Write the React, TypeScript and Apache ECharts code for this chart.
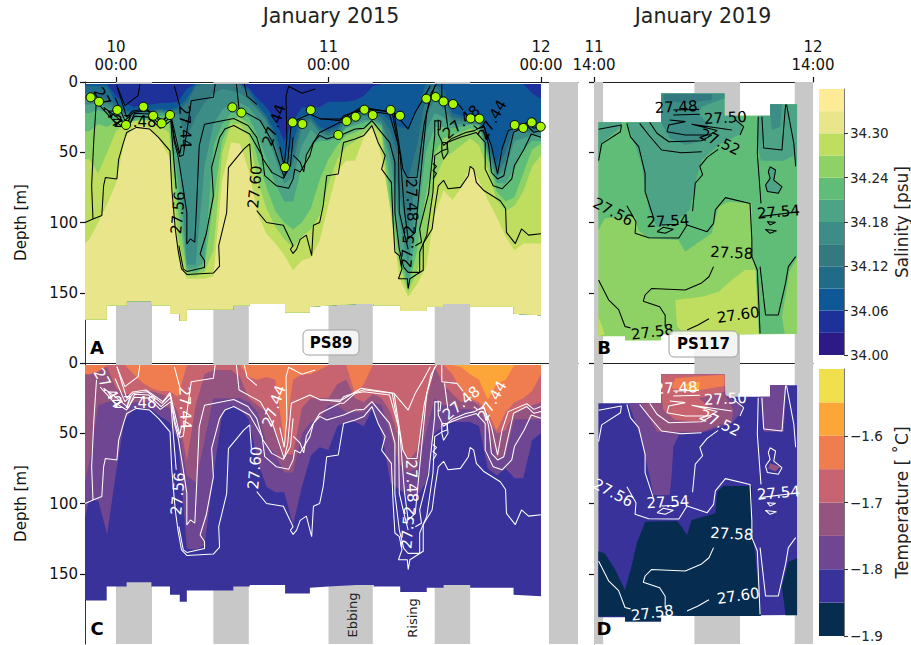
import React, { useEffect, useRef } from "react";
import * as echarts from "echarts";

type P = [number, number];

// ---- colour scales
const salinityLevels = [34.0, 34.03, 34.06, 34.09, 34.12, 34.15, 34.18, 34.21, 34.24, 34.27, 34.3, 34.33, 34.36];
const salinityColors = ["#2e1a87", "#1e319b", "#0f5898", "#1f6b88", "#327a80", "#3c8d85", "#4ca386", "#60bd78", "#8ed165", "#bfdd5f", "#e9e58a", "#fdeb95"];
const salinityTicks = [34.0, 34.06, 34.12, 34.18, 34.24, 34.3];
const tempLevels = [-1.9, -1.85, -1.8, -1.75, -1.7, -1.65, -1.6, -1.55, -1.5];
const tempColors = ["#062c50", "#38329a", "#6f4692", "#955380", "#c76470", "#f07d50", "#fca63a", "#f1e04d"];
const tempTicks = [-1.9, -1.8, -1.7, -1.6];

// ---- time axes (hours after 10 Jan 00:00, hours after 11 Jan 14:00)
const hoursA = [-3.5, -3, -2, -1, 0, 1, 2, 3, 4, 5, 6, 7, 8, 9, 10, 11, 12, 13, 14, 15, 16, 17, 18, 19, 20, 21, 22, 23, 24, 25, 26, 27, 28, 29, 30, 31, 32, 33, 34, 35, 36, 37, 38, 39, 40, 41, 42, 43, 44, 45, 46, 47, 48];
const tideBands2015 = [[0, 4.07], [11, 15], [24, 29], [36, 40], [48.9, 52.18]];
const tideBands2019 = [[0, 1], [11, 16], [22, 24]];

// ---- 2015: depth of each isohaline (m) on hoursA
const s3406 = [0, 0, 0, 0, 10, 15, 18, 16, 16, 15, 15, 14, 5, 0, 0, 0, 0, 0, 0, 4, 12, 18, 28, 42, 28, 18, 18, 18, 14, 14, 14, 13, 10, 3, 0, 0, 0, 0, 0, 0, 0, 0, 0, 0, 0, 0, 0, 0, 0, 0, 0, 8, 12];
const s3409 = [3, 3, 3, 3, 15, 20, 22, 20, 20, 19, 20, 18, 12, 0, 0, 0, 0, 0, 0, 6, 16, 24, 36, 55, 42, 24, 24, 32, 34, 32, 24, 22, 20, 20, 22, 28, 32, 33, 20, 0, 0, 5, 22, 24, 24, 24, 40, 58, 40, 28, 32, 32, 32];
const s3412 = [8, 8, 10, 12, 17, 22, 23, 21, 21, 20, 21, 20, 15, 3, 0, 0, 0, 0, 2, 10, 18, 26, 40, 62, 50, 28, 26, 34, 36, 34, 26, 24, 22, 23, 25, 35, 55, 70, 45, 10, 0, 12, 25, 26, 26, 26, 45, 62, 50, 32, 34, 34, 34];
const s3415 = [12, 12, 13, 15, 19, 23, 24, 22, 22, 21, 22, 23, 40, 25, 15, 8, 5, 6, 8, 13, 20, 28, 46, 68, 58, 32, 28, 36, 38, 36, 28, 26, 24, 25, 28, 45, 80, 105, 65, 25, 12, 20, 27, 28, 28, 28, 48, 65, 56, 34, 36, 36, 36];
const s3418 = [16, 16, 15, 18, 21, 24, 25, 23, 23, 22, 23, 40, 130, 130, 60, 30, 20, 15, 15, 18, 26, 36, 55, 72, 68, 45, 34, 40, 40, 38, 32, 29, 27, 27, 30, 55, 100, 130, 85, 35, 22, 25, 30, 30, 30, 30, 50, 68, 62, 42, 40, 38, 38];
const s3421 = [22, 22, 20, 22, 24, 26, 27, 25, 25, 24, 25, 70, 133, 133, 128, 45, 30, 22, 22, 25, 38, 55, 72, 85, 85, 60, 45, 42, 42, 40, 33, 31, 29, 27, 32, 70, 115, 145, 100, 50, 32, 32, 33, 32, 30, 31, 52, 72, 72, 62, 48, 42, 42];
const s3424 = [35, 35, 30, 32, 28, 28, 28, 27, 27, 28, 30, 90, 135, 136, 132, 85, 42, 26, 25, 30, 55, 75, 92, 100, 105, 100, 90, 70, 55, 45, 38, 36, 33, 29, 34, 85, 125, 148, 120, 80, 50, 40, 38, 36, 33, 35, 55, 78, 85, 82, 65, 48, 44];
const s3427 = [55, 55, 65, 50, 35, 30, 28, 27, 28, 32, 36, 110, 138, 138, 135, 120, 50, 30, 30, 38, 70, 90, 103, 112, 118, 110, 105, 95, 72, 55, 46, 42, 36, 30, 38, 100, 130, 150, 135, 110, 70, 55, 50, 45, 40, 45, 62, 84, 92, 88, 78, 60, 52];
const s3430 = [115, 112, 100, 87, 72, 40, 32, 31, 34, 42, 53, 125, 140, 140, 140, 138, 70, 43, 44, 63, 94, 108, 115, 123, 134, 127, 125, 113, 87, 63, 56, 56, 39, 32, 53, 91, 139, 153, 144, 132, 94, 77, 84, 75, 60, 70, 84, 96, 110, 120, 115, 115, 115];

// ---- 2015: depth of each isotherm (m) on hoursA
const t180 = [110, 97, 98, 122, 78, 40, 33, 32, 33, 38, 42, 55, 132, 133, 130, 80, 36, 30, 33, 40, 70, 88, 92, 92, 115, 88, 66, 60, 62, 45, 42, 42, 45, 32, 50, 85, 90, 95, 95, 85, 50, 45, 42, 42, 42, 45, 75, 80, 75, 82, 82, 55, 50];
const t175 = [85, 70, 30, 28, 26, 30, 28, 28, 28, 30, 32, 45, 80, 85, 55, 25, 25, 25, 25, 28, 35, 58, 65, 78, 78, 50, 42, 40, 30, 30, 35, 35, 35, 28, 30, 50, 72, 78, 75, 50, 25, 30, 30, 33, 33, 36, 48, 68, 65, 40, 40, 40, 40];
const t170 = [5, 5, 4, 3, 18, 22, 22, 20, 20, 22, 24, 35, 70, 30, 8, 5, 5, 5, 10, 25, 30, 35, 48, 65, 65, 32, 25, 25, 25, 15, 12, 25, 28, 22, 25, 35, 55, 70, 62, 30, 3, 15, 22, 28, 26, 30, 40, 50, 48, 35, 32, 30, 28];
const t165 = [8, 8, 6, 0, 0, 0, 8, 14, 18, 20, 20, 24, 0, 0, 0, 0, 0, 0, 0, 10, 12, 10, 12, 55, 12, 8, 8, 5, 0, 0, 0, 22, 15, 0, 0, 0, 0, 0, 0, 0, 0, 0, 8, 20, 25, 28, 35, 48, 35, 28, 25, 20, 8];
const t160 = [0, 0, 0, 0, 0, 0, 0, 0, 0, 0, 0, 0, 0, 0, 0, 0, 0, 0, 0, 0, 0, 0, 0, 0, 0, 0, 0, 0, 0, 0, 0, 0, 0, 0, 0, 0, 0, 0, 0, 0, 0, 0, 0, 3, 8, 12, 26, 15, 12, 0, 0, 0, 0];

const surface2015 = 1.5;
const bottom2015: P[] = [[-3.5, 169], [-1.05, 169], [-1.05, 159], [1.2, 159], [1.2, 156], [4, 156], [4, 159], [6.1, 159], [6.1, 165], [7.2, 165], [7.2, 170], [8, 170], [8, 162], [13.25, 162], [13.25, 159], [15.1, 159], [15.1, 158], [19.1, 158], [19.1, 164], [21.9, 164], [21.9, 160], [24, 159], [27.2, 158], [29.1, 158], [29.1, 159], [32.1, 159], [32.1, 163], [35.1, 163], [35.1, 160], [37, 160], [37, 158], [40, 158], [40, 160], [44.9, 160], [44.9, 165], [48, 166]];

// ---- 2015 isopycnals
const c60a: (P | null)[] = [[-3.5, 100], [-2.6, 97.5], [-1.6, 95], [-1.4, 74], [-1.2, 68], [0.1, 69], [0.3, 55], [0.8, 44], [1.2, 36], [2.3, 32.3], [3.8, 33.5], [4.8, 39.4], [6.1, 49], [6.3, 76], [6.7, 105], [7, 119], [7.4, 133], [8, 137], [11, 136], [11.7, 131], [11.6, 116.5], [12.5, 93], [12.7, 61], [14.4, 48], [15.1, 44], [15.3, 61], null, [15.9, 91.6], [17, 100], [18.9, 102], [20, 116.5], [19.7, 119], [20, 122], [20.4, 119], [20.8, 112], [21.5, 109], [22.1, 123.6], [22.3, 102], [23, 100], [23.4, 88], [23.8, 66.7], [25.1, 65.5], [25.7, 43], [27, 40.6], [28, 38], [28.9, 31], [29.6, 43], [30.4, 52.4], [30, 62], [31.1, 71.4], [31.3, 100], [31.5, 121], [32, 123.6], [32.3, 133], [31.9, 140], [32.9, 140], [33, 147], [33.2, 140], [34.7, 134], [34.7, 115], [35.7, 104.6], [36, 90], [36.4, 74], [37, 70], [37.5, 76], [38.9, 75], [39.8, 66.7], [40, 60], [40.4, 62], [40.7, 71.4], [41.5, 77], [43.4, 84.5], [44, 90], [44.1, 107], [45.1, 115], [45.8, 104.6], [46.6, 109], [48, 108]];
const c58left: (P | null)[] = [[-2.2, 12], [-2.5, 40.6], [-2.75, 73.8], [-2.6, 97.5]];
const c58a: (P | null)[] = [[-1.8, 17], [-0.3, 27.5], [1.2, 33.5], [2.1, 24.4], [3.7, 25], [5, 33], [6.2, 27.5], [6.4, 45.3], [6.8, 76], null, [7.1, 116.5], [7.6, 133], [8, 134.8], [10, 132], [10, 127], [9.5, 122.4], [10.2, 108], [11, 81], [10.8, 60.7], [11.7, 39.4], [12.3, 33.5], [13.3, 31], [15.1, 37], [16.5, 52.4], [16.8, 66.7], [18.1, 73.8], [19.5, 75.7], [20, 69], [20.2, 62], [20.8, 64], [21.9, 52.4], [22.3, 43], [23, 38], [23.8, 40.6], [25.7, 37], [27, 33.5], [28, 33], [28.9, 27.5], [30, 36], [30.9, 43], [31.5, 57], [31.5, 93], [32, 119], [32.5, 132], [33, 135.5], [34.3, 135.5], [34.3, 121], [35.1, 109], [35.8, 78.5], [36, 52.4], [36.8, 49], [37.4, 47.7], [37.4, 43], [38.9, 39.4], [40.7, 36], [41.7, 43], [41.7, 62], [42.6, 73.8], [43.6, 76], [44.7, 69], [45, 59.5], [46.1, 47.7], [46.9, 37], [48, 39.4]];
const c56a: (P | null)[] = [[-1.4, 18], [0.1, 25], [1.4, 32], [2.1, 22.3], [3.7, 22.8], [5.1, 31], [6.2, 24.4], [6.6, 43], [7, 52.4], [7.6, 76], [8, 92.8], [8, 115.3], [8.4, 111.7], [8.9, 114], [9.1, 88], [9.4, 45.3], [10, 30], [13.3, 26], [14.9, 31], [15.9, 39.4], [16.6, 54.8], [17.6, 64.3], [18.9, 68.6], [19.7, 59.5], [20, 39.4]];
const c56b: (P | null)[] = [[20, 52], [20.8, 57], [21.2, 64], [21.5, 52], [22.3, 43], [23, 36], [25.3, 28.7], [25.7, 28.7], [27, 21.6], [28, 20.4], [30.9, 22.8], [31.9, 45.3], [32, 92.8], [32.6, 109], [33, 119], null, [33.8, 116.5], [34.5, 114], [34.3, 104.6], [35.3, 79.7], [36, 38], [36, 27.5], [36.4, 28], [36.4, 37], [37, 45], [38, 40], [39.5, 36], [40.5, 34.6], [41.5, 31], [42.4, 45.3], [43.1, 65.5], [43.6, 47.7], [44.3, 34.6], [46.4, 29], [47.2, 33], [48, 31]];
const c52a: (P | null)[] = [[-0.1, 11], [1, 27.5], [2, 21.6], [3.5, 20.4], [5.2, 28.7], [6.1, 22.3], [6.7, 43], [7.2, 53], [7.6, 52], [8.1, 31], [8.5, 13.3], [11, 10.9], [11.2, 1.4]];
const c48a: (P | null)[] = [[0.1, 2.6], [1.2, 25], [1.9, 20.6], [3.4, 19.2], [5.3, 27.5], [6.1, 21], [6.9, 43], [7.2, 51], [7.4, 45], null, [7.3, 19], [7.2, 17], [6.6, 3]];
const c44a: (P | null)[] = [[2.7, 1.4], [2.5, 9.7], [1, 16.8], [0.1, 2.6]];
const c52b: (P | null)[] = [[13.6, 1.4], [13.9, 19.2], [16.3, 27.5], [17.6, 41.8], [19, 67.9], [19.4, 57], [19.8, 28.7], [21.9, 22.8], [23, 26], [25.3, 27.5], [25.7, 24], [28, 19], [31.2, 21.6], [32.1, 52.4], [32.5, 85.6], [32.6, 92.8], [33, 111.7], [33.8, 107], [34.3, 73.8], [35.1, 21.6], [36, 2.6]];
const c48b: (P | null)[] = [[23, 26.3], [25.5, 26.3], [27.7, 18], [31.4, 21.6], [32.4, 62], [32.9, 68], [34, 68], [34.8, 30], [35.6, 8], [36.2, 1.5]];
const c44b: (P | null)[] = [[31.4, 21.6], [33, 33.5], [33.8, 21.6], [34.7, 12], [35.5, 2.6]];
const c44c: (P | null)[] = [[36.8, 1.4], [36.8, 13.3], [38.5, 14.5], [39.2, 20], null, [40.4, 31], [40.8, 33]];
const c44d: (P | null)[] = [[37.1, 14.5], [37.5, 33.5]];
const c48c: (P | null)[] = [[40.7, 33.5], [41.6, 32], [42.1, 45.3], [42.4, 64.3], [43.1, 69], [43.8, 66.7], [44.3, 52.4], [44.9, 35.8], [46.4, 31], [47.2, 35.8], [48, 34.6]];
const c44e: (P | null)[] = [[14.5, 1.5], [14.8, 10], [15.9, 16], null, [18.5, 46], [19, 60], [19.3, 40], [19.2, 10], [19.5, 3], [21, 8], [22.5, 5]];
const loopA: (P | null)[] = [[36.8, 43], [37.4, 43], [37.5, 50], [37, 55], [36.8, 50], [36.8, 43]];
const loopB: (P | null)[] = [[36.3, 27], [36.7, 28], [36.6, 34], [36.3, 34]];
const wiggleA: (P | null)[] = [[35.8, 58], [36.2, 60], [35.8, 63], [36.2, 65], [35.8, 69]];
const contours2015 = [c60a, c58left, c58a, c56a, c56b, c52a, c48a, c44a, c52b, c48b, c44b, c44c, c44d, c48c, c44e, loopA, loopB, wiggleA];

const labels2015: [number, number, string, number][] = [
  [7.0, 93, "27.56", 85], [7.8, 32, "27.44", -88], [15.7, 74.7, "27.60", 85], [17.85, 30.6, "27.44", 70],
  [2.15, 28.5, "27.48", 0], [-0.9, 18, "27.44", -60], [33, 117, "27.52", 85], [33.4, 84, "27.48", -88],
  [39, 28.5, "27.48", 40], [42.5, 27, "27.44", 60],
];

// ---- stations marked on the salinity section
const stationH = [-2.86, -1.92, 0.15, 1.13, 3.09, 4.2, 5.16, 6.1, 13.14, 14.16, 19.09, 19.95, 21.05, 22, 25.11, 26.05, 27.07, 28.05, 29, 31.02, 32.08, 35.05, 36.1, 37, 38.07, 40.06, 41.04, 45.03, 45.99, 46.95, 47.97];
const stationD = [10.9, 14, 19.9, 30.6, 17.6, 24, 29.4, 23.5, 18, 21.8, 60.7, 28.7, 29.9, 20, 37.7, 27.8, 24.7, 19.7, 23.5, 19.9, 24, 11.9, 10.7, 13.8, 15.7, 25.9, 26.1, 30.6, 32.7, 28.7, 31.8];

// ---- 2019 regions
const domain2019: P[] = [[0.48, 28.7], [7.35, 28.7], [7.35, 8.1], [14.3, 8.1], [14.3, 24], [19.3, 24], [19.3, 15.9], [22.25, 15.9], [22.25, 179.4], [10, 180], [7.35, 179.6], [7.35, 184], [3.4, 184], [3.4, 181], [0.48, 181]];
const sal7: P[] = [[0.48, 28.7], [7.35, 28.7], [7.35, 8.1], [14.3, 8.1], [14.3, 24], [19.3, 24], [19.3, 15.9], [22.25, 15.9], [22.25, 125], [21.4, 135], [21.2, 144], [20.6, 167], [20.9, 179], [18.05, 179.4], [17.7, 133.8], [17.3, 121.9], [17.3, 86.4], [14.75, 85.2], [13.65, 88.7], [12.9, 107.7], [11.3, 114.8], [10, 120.8], [9.25, 112.5], [5.95, 111.3], [4.85, 105.3], [4.5, 95.8], [1.2, 97], [0.48, 105.3]];
const sal9a: P[] = [[8.9, 155.2], [11.8, 152.8], [13.65, 149.2], [15.1, 141], [16.55, 133.8], [17.7, 133.8], [18.05, 179.4], [10, 180], [9.1, 174.1]];
const sal9b: P[] = [[0.48, 167], [1.2, 179.5], [0.48, 181]];
const sal6a: P[] = [[3.6, 28.7], [5.2, 57.9], [6, 91], [6.9, 103], [8.7, 100.6], [10.5, 91], [11.1, 72], [11.8, 55.5], [13.65, 44.8], [16.2, 36.5], [16.2, 29.4], [15.8, 24], [14.3, 24], [14.3, 8.1], [7.35, 8.1], [7.35, 28.7]];
const sal6b: P[] = [[0.48, 28.7], [3, 28.7], [3, 31.8], [0.84, 43.6], [0.48, 55.5]];
const sal6c: P[] = [[18, 24], [19.3, 24], [19.3, 15.9], [22.25, 15.9], [22.25, 60.3], [21.9, 52], [20.8, 56], [18.3, 56], [17.9, 45]];
const sal6d: P[] = [[19.3, 60.3], [19.9, 62.6], [19.7, 69.8], [20.6, 74.5], [20.2, 79.2], [19, 78], [18.8, 73.3], [19.3, 68.6], [19.1, 63.8]];
const sal5a: P[] = [[7.35, 8.1], [14.3, 8.1], [14.3, 11.6], [11.8, 17.6], [11.45, 22.3], [12.55, 30.6], [12.2, 41.2], [10, 44.8], [8.35, 40], [7.35, 28.7]];
const sal5b: P[] = [[19.3, 15.9], [20.6, 15.9], [20.4, 31.8], [19.5, 34.2], [19.3, 22.3]];
const sal4a: P[] = [[7.6, 8.5], [12.9, 8.5], [12.9, 12.8], [10, 15.2], [7.6, 12.8]];

const temp0a: P[] = [[5.6, 113], [9.1, 112.5], [9.6, 116.5], [10.2, 122.4], [10.7, 111.7], [13.3, 107], [13.5, 91.6], [14.2, 87.5], [17.3, 87.5], [17.3, 114], [17.7, 140], [18.3, 180], [10, 180], [7.35, 179.6], [7.35, 184], [3.4, 184], [3.4, 180.5], [0.48, 180.5], [0.48, 134], [1.2, 135.5], [2.3, 147], [3.4, 161.5], [4.1, 145], [4.7, 128], [5.4, 116.5]];
const temp0b: P[] = [[22.25, 139], [21.3, 141.4], [20.6, 159.2], [21, 179.5], [22.25, 179.5]];
const temp2a: P[] = [[3.8, 28.7], [5.2, 54.8], [6.1, 80.9], [6.5, 94], [8.3, 94], [8.5, 80.9], [8.7, 59.5], [9.3, 51.2], [12.2, 48.9], [15.1, 43], [16.2, 34.6], [16, 28.7], [14.4, 22.8], [14.3, 8.1], [7.35, 8.1], [7.35, 28.7]];
const temp2b: P[] = [[19.3, 15.7], [21.1, 15.7], [20.8, 48.9], [18.6, 48.9], [18.2, 24], [19.3, 24]];
const temp3a: P[] = [[5.2, 28.7], [6.9, 48.9], [11.8, 48.9], [15.1, 40.6], [15.3, 33.5], [14.3, 21.6], [14.3, 8.1], [7.35, 8.1], [7.35, 28.7]];
const temp3b: P[] = [[19.3, 71.4], [20.4, 73.8], [19.9, 77.3], [19.1, 75]];
const temp4a: P[] = [[7.35, 8.1], [14.3, 8.1], [14.3, 20.4], [11.5, 25], [13.3, 35.8], [11.5, 41.8], [8.9, 40.6], [7.6, 33.5], [7.35, 20.4]];
const temp5a: P[] = [[8.9, 10.9], [14.3, 8.1], [14.3, 16.4], [11.1, 19.7], [8.5, 18]];
const temp6a: P[] = [[10, 14.9], [11.6, 13.3], [11.5, 19.7], [10.3, 19.2]];

const b1: (P | null)[] = [[0.5, 33.7], [3, 30.6], [2.9, 35.4], [0.84, 44], [0.5, 56]];
const b2: (P | null)[] = [[3.6, 29.4], [4, 39], [4.9, 46], [5.6, 65], [5.6, 78], [6.5, 96]];
const b3: (P | null)[] = [[10.8, 92], [11.1, 72], [11.9, 66], [11.6, 60], [12.4, 53.6], [13.6, 48], null, [16, 37.7], [16.4, 31.8], [15.5, 27]];
const b4: (P | null)[] = [[3.6, 88], [4.6, 99.4], [4.5, 107.7], [6, 110.8], [9.3, 111], [10.2, 101.8], [12.4, 106.5], [13.1, 100.6], [13.3, 91], [14.4, 82.3], [17.1, 86.4], [17.3, 112.5], [17.3, 124.3], [17.9, 133.8], [18.2, 178.9]];
const b5: (P | null)[] = [[0.5, 141], [1.6, 155], [2.7, 162], [3.4, 174], [4, 175], null, [7.8, 174], [7.8, 166], [7.2, 160], [5.4, 156], [5.6, 151.6], [6.3, 147], [10, 148], [11.8, 143], [12.6, 138.6], [13.1, 131.4]];
const b6: (P | null)[] = [[10.2, 176.5], [11.4, 173], [12.6, 168.5]];
const b7: (P | null)[] = [[18, 24.7], [17.9, 50.8], [18.3, 86.4], null, [18.2, 131.4], [18.8, 165.8], [20.2, 165.8], [21, 143], [21.3, 131.4], [22.1, 124.3]];
const b8: (P | null)[] = [[21.1, 16], [21.9, 43.7], [22.1, 60]];
const b9: (P | null)[] = [[18.4, 24.7], [18.6, 47], [20.6, 48.4], [20.8, 31.8], [21, 16]];
const b10: (P | null)[] = [[19.3, 60.3], [19.9, 62.6], [19.7, 69.8], [20.6, 74.5], [20.2, 79.2], [19, 78], [18.8, 73.3], [19.3, 68.6], [19.1, 63.8], [19.3, 60.3]];
const b11: (P | null)[] = [[5, 29.4], [6, 37.7], [7.4, 48.4], [9.6, 50.3], [11.8, 49.6]];
const b12: (P | null)[] = [[6.1, 28.7], [6.9, 36.5], [8.2, 42.5], [11.8, 41.8], [12.9, 37.7]];
const b13: (P | null)[] = [[8.7, 23.5], [11.6, 23]];
const b14: (P | null)[] = [[8.3, 27], [10, 28.2], [8.2, 30.6], [8, 35.4], [10, 37.7], [12.6, 37.7], [13.5, 34.6], [10.7, 30], [15.1, 34.2]];
const b15: (P | null)[] = [[8.7, 20], [11.5, 19.5]];
const b16: (P | null)[] = [[18.2, 95.8], [22.4, 92.3]];
const b17: (P | null)[] = [[19, 99.4], [19.9, 99.9], [19.3, 101.8], [19, 99.4]];
const b18: (P | null)[] = [[18.8, 105], [20, 105.8], [19.3, 107.7], [18.8, 105]];
const b19: (P | null)[] = [[6.9, 106.5], [7.6, 103.4], [8.7, 104.9], [7.8, 107.7], [6.9, 106.5]];
const b20: (P | null)[] = [[7.4, 101.8], [9.3, 101.3]];
const contours2019 = [b1, b2, b3, b4, b5, b6, b7, b8, b9, b10, b11, b12, b13, b14, b15, b16, b17, b18, b19, b20];

const labels2019: [number, number, string, number][] = [
  [9, 17.8, "27.48", 3], [14.4, 25.6, "27.50", 3], [13.8, 42.7, "27.52", -25], [2.1, 92.5, "27.56", -28],
  [8.1, 99, "27.54", 3], [20.2, 92.5, "27.54", 5], [15.1, 121.7, "27.58", -3], [15.8, 165.8, "27.60", 8], [6.4, 178, "27.58", 7],
];

const FONT = "DejaVu Sans";
const GRAY = "#c8c8c8";

function polygon(points: P[], fill: string, axis: number, z = 2) {
  return {
    type: "custom", xAxisIndex: axis, yAxisIndex: axis, z, silent: true, data: [[0, 0]],
    renderItem: (_p: any, api: any) => ({
      type: "polygon",
      shape: { points: points.map((p) => api.coord(p)) },
      style: { fill },
    }),
  };
}

function lines(list: (P | null)[][], color: string, axis: number) {
  const out: any[] = [];
  list.forEach((c) => {
    let seg: P[] = [];
    const flush = () => {
      if (seg.length > 1) out.push({ type: "line", xAxisIndex: axis, yAxisIndex: axis, z: 3, silent: true, symbol: "none", animation: false, data: seg, lineStyle: { color, width: 1.05 } });
      seg = [];
    };
    c.forEach((p) => { if (p) seg.push(p); else flush(); });
    flush();
  });
  return out;
}

function textLabels(list: [number, number, string, number][], color: string, axis: number) {
  return {
    type: "custom", xAxisIndex: axis, yAxisIndex: axis, z: 4, silent: true,
    data: list.map((l, i) => [l[0], l[1], i]),
    renderItem: (_p: any, api: any) => {
      const l = list[api.value(2)];
      const c = api.coord([l[0], l[1]]);
      return {
        type: "text", x: c[0], y: c[1], rotation: (l[3] * Math.PI) / 180,
        style: { text: l[2], fill: color, font: `15px "${FONT}"`, align: "center", verticalAlign: "middle" },
      };
    },
  };
}

function colorbar(levels: number[], colors: string[], axis: number) {
  return {
    type: "custom", xAxisIndex: axis, yAxisIndex: axis, z: 2, silent: true,
    data: colors.map((_, i) => [i, i]),
    renderItem: (_p: any, api: any) => {
      const i = api.value(0);
      const a = api.coord([0, levels[i]]);
      const b = api.coord([1, levels[i + 1]]);
      return { type: "rect", shape: { x: a[0], y: b[1], width: b[0] - a[0], height: a[1] - b[1] }, style: { fill: colors[i] } };
    },
  };
}

function bands(list: number[][], axis: number) {
  return list.map(([a, b]) => polygon([[a, 0], [b, 0], [b, 200], [a, 200]], GRAY, axis, 1));
}

function upperEdge(level: number[]): P[] {
  return level.map((d, i) => [hoursA[i], Math.max(d, surface2015)] as P);
}

const noLevel = hoursA.map(() => 0);

function fullSection(color: string, axis: number) {
  return polygon([...upperEdge(noLevel), ...[...bottom2015].reverse()], color, axis);
}

function salLayer(level: number[], color: string) {
  return polygon([...upperEdge(level), ...[...bottom2015].reverse()], color, 0);
}

function tempLayer(level: number[], color: string) {
  return polygon([...upperEdge(noLevel), ...upperEdge(level).reverse()], color, 2);
}

const axisFont = { fontFamily: FONT, fontSize: 15, color: "#111" };

function depthAxis(grid: number, showLabels: boolean) {
  return {
    type: "value", gridIndex: grid, inverse: true, min: 0, max: 200, position: "left",
    splitLine: { show: false },
    axisLine: { show: true, onZero: false, lineStyle: { color: "#333", width: 1 } },
    axisTick: { show: true, length: 5, customValues: [0, 50, 100, 150], lineStyle: { color: "#111", width: 1.2 } },
    axisLabel: { show: showLabels, customValues: [0, 50, 100, 150], margin: 7, ...axisFont },
    ...(showLabels ? { name: "Depth [m]", nameLocation: "middle", nameGap: 57, nameRotate: 90, nameTextStyle: { ...axisFont } } : {}),
  };
}

function timeAxis(grid: number, min: number, max: number, ticks: number[], names: string[]) {
  return {
    type: "value", gridIndex: grid, min, max, position: "top",
    splitLine: { show: false },
    axisLine: { show: true, onZero: false, lineStyle: { color: "#222", width: 1 } },
    axisTick: { show: ticks.length > 0, length: 5, customValues: ticks, lineStyle: { color: "#111", width: 1.2 } },
    axisLabel: {
      show: ticks.length > 0, customValues: ticks, margin: 8, lineHeight: 18, hideOverlap: false, showMinLabel: true, showMaxLabel: true,
      formatter: (v: number) => names[ticks.indexOf(v)] ?? "", ...axisFont,
    },
  };
}

function colorbarAxes(grid: number, min: number, max: number, ticks: number[], name: string, fmt: (v: number) => string) {
  return {
    x: { type: "value", gridIndex: grid, min: 0, max: 1, show: false },
    y: {
      type: "value", gridIndex: grid, min, max, position: "right",
      splitLine: { show: false },
      axisLine: { show: true, onZero: false, lineStyle: { color: "#555", width: 0.8 } },
      axisTick: { show: true, length: 4, customValues: ticks, lineStyle: { color: "#333" } },
      axisLabel: { customValues: ticks, margin: 6, formatter: fmt, fontFamily: FONT, fontSize: 13.5, color: "#222" },
      name, nameLocation: "middle", nameGap: 49, nameRotate: 90, nameTextStyle: { fontFamily: FONT, fontSize: 17, color: "#222" },
    },
  };
}

function panelLetter(t: string, x: number, y: number) {
  return { type: "text", x, y, z: 20, style: { text: t, font: `bold 18px "${FONT}"`, fill: "#000", align: "center", verticalAlign: "middle" } };
}

function boxed(t: string, x: number, y: number, w: number, h: number) {
  return [
    { type: "rect", z: 19, shape: { x, y, width: w, height: h, r: 5 }, style: { fill: "rgba(255,255,255,0.8)", stroke: "#a0a0a0", lineWidth: 1 } },
    { type: "text", z: 20, x: x + w / 2, y: y + h / 2, style: { text: t, font: `bold 15px "${FONT}"`, fill: "#000", align: "center", verticalAlign: "middle" } },
  ];
}

function plainText(t: string, x: number, y: number, size: number, rotDeg = 0) {
  return { type: "text", x, y, z: 20, rotation: (rotDeg * Math.PI) / 180, style: { text: t, font: `${size}px "${FONT}"`, fill: "#222", align: "center", verticalAlign: "middle" } };
}

export default function App() {
  const ref = useRef<HTMLDivElement>(null);
  useEffect(() => {
    const chart = echarts.init(ref.current!, undefined, { renderer: "svg" });
    const cb1 = colorbarAxes(4, 34.0, 34.36, salinityTicks, "Salinity [psu]", (v) => v.toFixed(2));
    const cb2 = colorbarAxes(5, -1.9, -1.5, tempTicks, "Temperature [ \u02DAC]", (v) => "\u2212" + Math.abs(v).toFixed(1));
    const xa = [-3.5, 52.18];
    const sc = (i: number) => salinityColors[i];
    const tc = (i: number) => tempColors[i];
    const option: any = {
      animation: false,
      backgroundColor: "#fff",
      grid: [
        { left: 85, top: 82, width: 493, height: 281 },
        { left: 594, top: 82, width: 219, height: 281 },
        { left: 85, top: 363, width: 493, height: 281 },
        { left: 594, top: 363, width: 219, height: 281 },
        { left: 819, top: 89, width: 27, height: 266 },
        { left: 819, top: 369, width: 27, height: 267 },
      ],
      xAxis: [
        timeAxis(0, xa[0], xa[1], [0, 24, 48], ["10\n00:00", "11\n00:00", "12\n00:00"]),
        timeAxis(1, 0, 24, [0, 24], ["11\n14:00", "12\n14:00"]),
        timeAxis(2, xa[0], xa[1], [], []),
        timeAxis(3, 0, 24, [], []),
        cb1.x, cb2.x,
      ],
      yAxis: [depthAxis(0, true), depthAxis(1, false), depthAxis(2, true), depthAxis(3, false), cb1.y, cb2.y],
      series: [
        ...bands(tideBands2015, 0), ...bands(tideBands2015, 2), ...bands(tideBands2019, 1), ...bands(tideBands2019, 3),
        fullSection(sc(1), 0),
        salLayer(s3406, sc(2)), salLayer(s3409, sc(3)), salLayer(s3412, sc(4)), salLayer(s3415, sc(5)),
        salLayer(s3418, sc(6)), salLayer(s3421, sc(7)), salLayer(s3424, sc(8)), salLayer(s3427, sc(9)), salLayer(s3430, sc(10)),
        fullSection(tc(1), 2),
        tempLayer(t180, tc(2)), tempLayer(t175, tc(3)), tempLayer(t170, tc(4)), tempLayer(t165, tc(5)), tempLayer(t160, tc(6)),
        polygon(domain2019, sc(8), 1), polygon(sal7, sc(7), 1), polygon(sal9a, sc(9), 1), polygon(sal9b, sc(9), 1),
        polygon(sal6a, sc(6), 1), polygon(sal6b, sc(6), 1), polygon(sal6c, sc(6), 1), polygon(sal6d, sc(6), 1), polygon(sal5a, sc(5), 1), polygon(sal5b, sc(5), 1), polygon(sal4a, sc(4), 1),
        polygon(domain2019, tc(1), 3), polygon(temp0a, tc(0), 3), polygon(temp0b, tc(0), 3),
        polygon(temp2a, tc(2), 3), polygon(temp2b, tc(2), 3), polygon(temp3a, tc(3), 3), polygon(temp3b, tc(3), 3),
        polygon(temp4a, tc(4), 3), polygon(temp5a, tc(5), 3), polygon(temp6a, tc(6), 3),
        ...lines(contours2015, "#000", 0), ...lines(contours2015, "#fff", 2),
        ...lines(contours2019, "#000", 1), ...lines(contours2019, "#fff", 3),
        textLabels(labels2015, "#000", 0), textLabels(labels2015, "#fff", 2),
        textLabels(labels2019, "#000", 1), textLabels(labels2019, "#fff", 3),
        {
          type: "scatter", xAxisIndex: 0, yAxisIndex: 0, z: 5, silent: true, symbolSize: 9,
          data: stationH.map((h, i) => [h, stationD[i]]),
          itemStyle: { color: "#a6f800", opacity: 1, borderColor: "#000", borderWidth: 1 },
        },
        colorbar(salinityLevels, salinityColors, 4),
        colorbar(tempLevels, tempColors, 5),
      ],
      graphic: {
        elements: [
          plainText("January 2015", 331, 16, 20.5),
          plainText("January 2019", 703, 16, 20.5),
          panelLetter("A", 97, 347), panelLetter("B", 604, 347), panelLetter("C", 97, 628), panelLetter("D", 604, 628),
          ...boxed("PS89", 303, 330, 56, 25), ...boxed("PS117", 669, 331, 69, 26),
          plainText("Ebbing", 352, 615, 13, 90), plainText("Rising", 412, 618, 13, 90),
        ],
      },
    };
    chart.setOption(option);
    return () => chart.dispose();
  }, []);
  return <div ref={ref} style={{ position: "absolute", left: 0, top: 0, width: 911, height: 645 }} />;
}
